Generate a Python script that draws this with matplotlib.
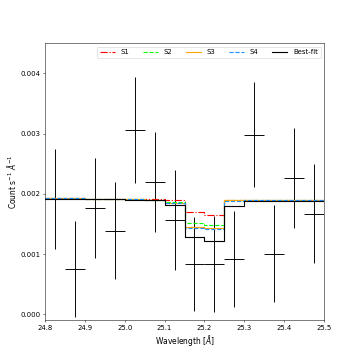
import numpy as np
import matplotlib.pyplot as plt

# bin centres (Angstrom) and observed count rates
wave = [24.825, 24.875, 24.925, 24.975, 25.025, 25.075, 25.125,
        25.175, 25.225, 25.275, 25.325, 25.375, 25.425, 25.475]
rate = [0.00191, 0.00075, 0.00177, 0.00139, 0.00306, 0.00219, 0.00156,
        0.00084, 0.00084, 0.00092, 0.00298, 0.00101, 0.00226, 0.00167]
rate_err = [0.00083, 0.00080, 0.00083, 0.00081, 0.00088, 0.00083, 0.00083,
            0.00078, 0.00080, 0.00079, 0.00087, 0.00080, 0.00083, 0.00082]
bin_half = 0.025

# model curves
s1 = [0.00193, 0.00193, 0.00192, 0.00192, 0.00191, 0.00191, 0.00189,
      0.00170, 0.00165, 0.00190, 0.00190, 0.00189, 0.00189, 0.00189]
s2 = [0.00193, 0.00193, 0.00192, 0.00192, 0.00191, 0.00190, 0.00187,
      0.00151, 0.00148, 0.00189, 0.00190, 0.00189, 0.00189, 0.00189]
s3 = [0.00193, 0.00193, 0.00192, 0.00192, 0.00191, 0.00190, 0.00185,
      0.00145, 0.00143, 0.00189, 0.00190, 0.00189, 0.00189, 0.00189]
s4 = [0.00193, 0.00193, 0.00192, 0.00192, 0.00191, 0.00190, 0.00184,
      0.00144, 0.00141, 0.00188, 0.00189, 0.00189, 0.00189, 0.00189]
best = [0.00192, 0.00192, 0.00191, 0.00191, 0.00190, 0.00189, 0.00182,
        0.00128, 0.00122, 0.00180, 0.00188, 0.00188, 0.00188, 0.00188]

models = [(s1, "S1", "red", "-."),
          (s2, "S2", "lime", "--"),
          (s3, "S3", "orange", "-"),
          (s4, "S4", "dodgerblue", "--"),
          (best, "Best-fit", "black", "-")]

fig, ax = plt.subplots(figsize=(8, 8), dpi=45)

ax.errorbar(wave, rate, xerr=bin_half, yerr=rate_err, fmt="none",
            ecolor="black", elinewidth=1.5)

# step curves drawn on bin edges
edges = np.append(np.array(wave) - bin_half, wave[-1] + bin_half)
for vals, name, col, ls in models:
    ax.step(edges, np.append(vals, vals[-1]), where="post",
            color=col, linestyle=ls, linewidth=1.8, label=name)

ax.set_xlim(24.8, 25.5)
ax.set_ylim(-0.0001, 0.0045)
ax.set_yticks([0.000, 0.001, 0.002, 0.003, 0.004])
ax.tick_params(labelsize=11)
ax.set_xlabel(r"Wavelength [$\AA$]", fontsize=12)
ax.set_ylabel(r"Count s$^{-1}$ $\AA^{-1}$", fontsize=12)
ax.legend(loc="upper right", ncol=5, fontsize=11, handlelength=2.2)

plt.savefig("out.png", dpi=45)
